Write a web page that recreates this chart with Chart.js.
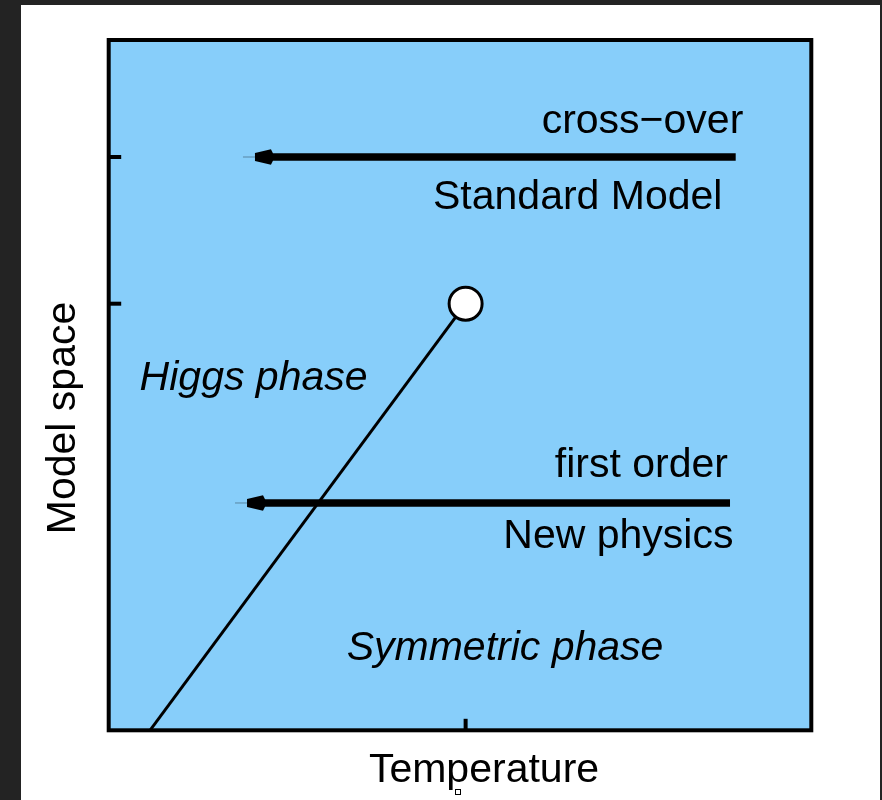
<!DOCTYPE html>
<html>
<head>
<meta charset="utf-8">
<script src="https://cdn.jsdelivr.net/npm/chart.js@4.4.1/dist/chart.umd.min.js"></script>
<style>
  html, body { margin: 0; padding: 0; width: 882px; height: 800px; background: #232323; overflow: hidden; }
  #page { position: absolute; left: 21px; top: 5px; width: 859px; height: 795px; background: #ffffff; }
  #c { display: block; }
</style>
</head>
<body>
<div id="page"><canvas id="c" width="859" height="795"></canvas></div>
<script>
// ---- data (axis units: 0..1 on both axes) ----
const xRange = [0, 1];
const yRange = [0, 1];
const xTickValues = [0.508];
const yTickValues = [0.618, 0.8305];
const xTitle = "Temperature";
const yTitle = "Model space";

// phase boundary line ending at the critical end point
const boundaryX = [0.0588, 0.508];
const boundaryY = [0.0, 0.618];
const endPointX = [0.508];
const endPointY = [0.618];

// arrows (cooling paths)
const arrowNames = ["Standard Model", "New physics"];
const arrowY = [0.8305, 0.3293];
const arrowFromX = [0.8924, 0.8843];
const arrowToX = [0.1911, 0.1798];

// text labels inside the plot
const labelTexts = ["cross\u2212over", "Standard Model", "Higgs phase", "first order", "New physics", "Symmetric phase"];
const labelX = [0.9032, 0.4616, 0.044, 0.8814, 0.5616, 0.3387];
const labelY = [0.8649, 0.7548, 0.493, 0.3665, 0.2637, 0.1018];
const labelAlign = ["right", "left", "left", "right", "left", "left"];
const labelItalic = [false, false, true, false, false, true];

// ---- chart ----
const FONT = '"Liberation Sans", Arial, Helvetica, sans-serif';
const HEAD_LEN = 28, HEAD_BLUNT = 12;

const datasets = [];
datasets.push({
  label: "end point",
  data: endPointX.map((x, i) => ({ x: x, y: endPointY[i] })),
  showLine: false,
  pointRadius: 16.5,
  pointHoverRadius: 16.5,
  pointBorderWidth: 3,
  pointBackgroundColor: "#ffffff",
  pointBorderColor: "#000000",
  order: 0
});
datasets.push({
  label: "phase boundary",
  data: boundaryX.map((x, i) => ({ x: x, y: boundaryY[i] })),
  showLine: true,
  borderColor: "#000000",
  borderWidth: 3,
  pointRadius: 0,
  pointHoverRadius: 0,
  fill: false,
  order: 1
});
arrowNames.forEach((name, i) => {
  datasets.push({
    label: name,
    data: [{ x: arrowFromX[i], y: arrowY[i] }, { x: arrowToX[i], y: arrowY[i] }],
    showLine: true,
    borderColor: "#000000",
    borderWidth: 7.5,
    borderCapStyle: "butt",
    pointRadius: 0,
    pointHoverRadius: 0,
    fill: false,
    order: 2
  });
});

const decor = {
  id: "decor",
  beforeDatasetsDraw(chart) {
    const { ctx, chartArea: a } = chart;
    ctx.save();
    ctx.fillStyle = "#87cefa";
    ctx.fillRect(a.left, a.top, a.right - a.left, a.bottom - a.top);
    ctx.restore();
  },
  afterDatasetsDraw(chart) {
    const { ctx, chartArea: a, scales } = chart;
    const xs = scales.x, ys = scales.y;
    ctx.save();
    // arrow heads
    ctx.fillStyle = "#000000";
    arrowNames.forEach((n, i) => {
      const t = xs.getPixelForValue(arrowToX[i]);
      const y = ys.getPixelForValue(arrowY[i]);
      // cover the shaft near the tip with the background first
      ctx.fillStyle = "#87cefa";
      ctx.fillRect(t - 1, y - 4.5, HEAD_LEN + 1, 9);
      ctx.fillStyle = "#000000";
      ctx.beginPath();
      ctx.moveTo(t + HEAD_BLUNT, y - 4);
      ctx.lineTo(t + HEAD_LEN, y - 7.7);
      ctx.lineTo(t + HEAD_LEN + 2, y - 3.75);
      ctx.lineTo(t + HEAD_LEN + 2, y + 3.75);
      ctx.lineTo(t + HEAD_LEN, y + 7.7);
      ctx.lineTo(t + HEAD_BLUNT, y + 4);
      ctx.closePath();
      ctx.fill();
      ctx.strokeStyle = "rgba(0,0,0,0.35)";
      ctx.lineWidth = 1;
      ctx.beginPath();
      ctx.moveTo(t, y);
      ctx.lineTo(t + HEAD_BLUNT, y);
      ctx.stroke();
    });
    // frame
    ctx.strokeStyle = "#000000";
    ctx.lineWidth = 4;
    ctx.lineJoin = "miter";
    ctx.strokeRect(a.left, a.top, a.right - a.left, a.bottom - a.top);
    // inward ticks
    ctx.lineWidth = 4;
    ctx.lineCap = "butt";
    yTickValues.forEach(v => {
      const y = ys.getPixelForValue(v);
      ctx.beginPath();
      ctx.moveTo(a.left, y);
      ctx.lineTo(a.left + 12.5, y);
      ctx.stroke();
    });
    xTickValues.forEach(v => {
      const x = xs.getPixelForValue(v);
      ctx.beginPath();
      ctx.moveTo(x, a.bottom);
      ctx.lineTo(x, a.bottom - 11.5);
      ctx.stroke();
    });
    // labels
    ctx.fillStyle = "#000000";
    ctx.textBaseline = "alphabetic";
    labelTexts.forEach((s, i) => {
      ctx.font = (labelItalic[i] ? "italic " : "") + "41px " + FONT;
      ctx.textAlign = labelAlign[i];
      ctx.fillText(s, xs.getPixelForValue(labelX[i]), ys.getPixelForValue(labelY[i]));
    });
    // axis titles
    ctx.font = "41px " + FONT;
    ctx.textAlign = "center";
    ctx.fillText(xTitle, 463, 777);
    ctx.save();
    ctx.translate(54, 413);
    ctx.rotate(-Math.PI / 2);
    ctx.fillText(yTitle, 0, 0);
    ctx.restore();
    // small marker artifact below the x title
    ctx.fillStyle = "#ffffff";
    ctx.fillRect(434.5, 784.5, 5, 5);
    ctx.strokeStyle = "#000000";
    ctx.lineWidth = 1;
    ctx.strokeRect(434.5, 784.5, 5, 5);
    ctx.restore();
  }
};

new Chart(document.getElementById("c"), {
  type: "scatter",
  data: { datasets: datasets },
  options: {
    responsive: false,
    animation: false,
    devicePixelRatio: 1,
    layout: { padding: { left: 87.7, top: 35, right: 68.7, bottom: 69.7 } },
    plugins: { legend: { display: false }, tooltip: { enabled: false } },
    events: [],
    scales: {
      x: { type: "linear", min: xRange[0], max: xRange[1], display: false },
      y: { type: "linear", min: yRange[0], max: yRange[1], display: false }
    },
    elements: { line: { tension: 0 } }
  },
  plugins: [decor]
});
</script>
</body>
</html>
